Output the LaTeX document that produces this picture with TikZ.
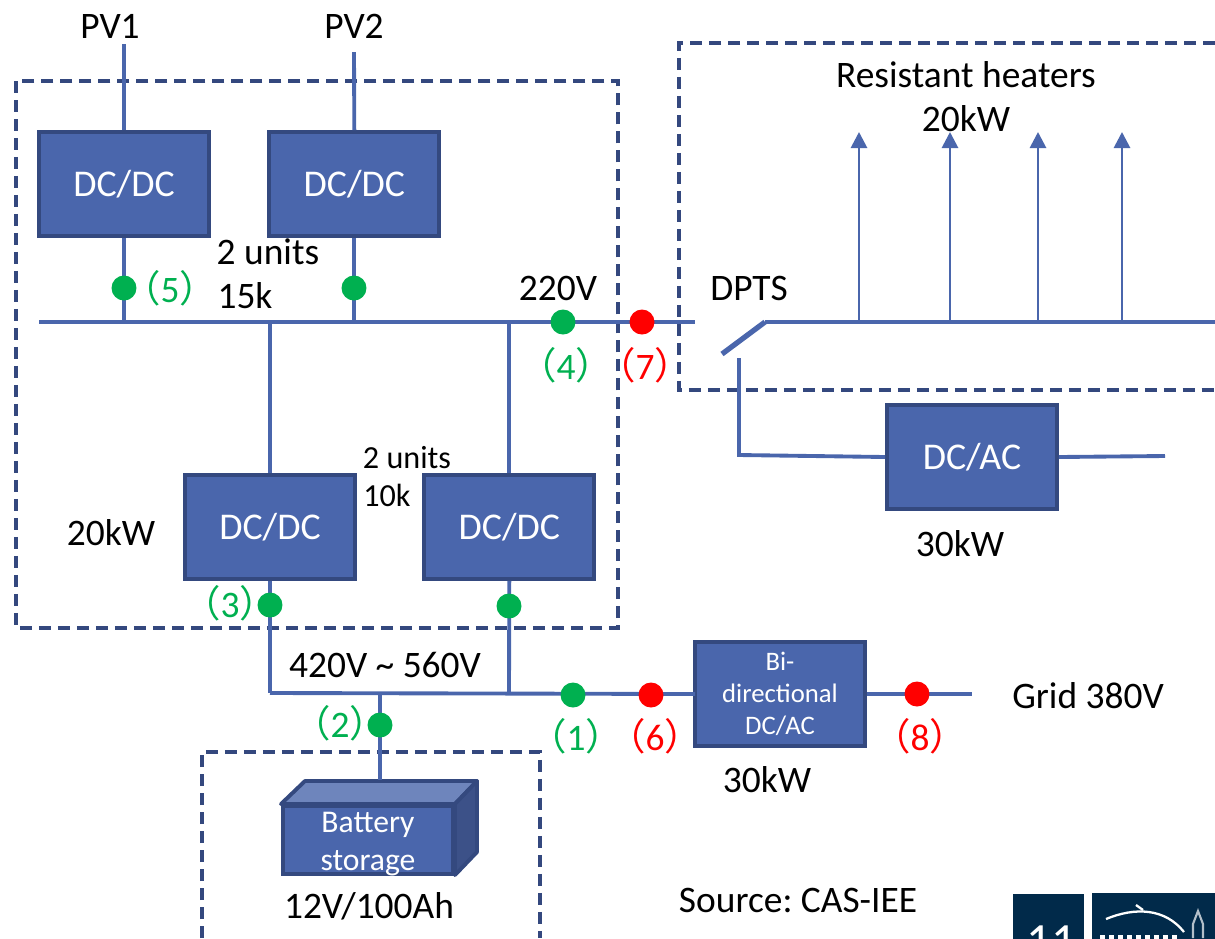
\documentclass[tikz,border=0pt]{standalone}
\usepackage{fontspec}
\setmainfont{Carlito}
\newfontfamily\cjk{Noto Sans CJK SC}
\usetikzlibrary{arrows.meta,positioning}
\definecolor{boxblue}{HTML}{4A66AC}
\definecolor{boxedge}{HTML}{34497F}
\definecolor{boxtop}{HTML}{6E85BC}
\definecolor{boxside}{HTML}{3C5188}
\definecolor{dashblue}{HTML}{34487E}
\definecolor{okgreen}{HTML}{00B050}
\definecolor{logonavy}{HTML}{012A4A}
\newcommand{\tagnum}[1]{{\cjk（}#1{\cjk）}}
\frenchspacing
\begin{document}
\begin{tikzpicture}[x=0.02cm,y=-0.02cm,
    conv/.style={rectangle,draw=boxedge,line width=2.2pt,fill=boxblue,text=white,minimum width=3.4cm,minimum height=2.08cm,inner sep=0pt,font=\fontsize{21.5}{26}\selectfont},
    bus/.style={draw=boxblue,line width=2.8pt},
    wire/.style={draw=boxblue,line width=2.2pt},
    frame/.style={draw=dashblue,line width=2.1pt,dash pattern=on 0.24cm off 0.14cm},
    heat/.style={draw=boxblue,line width=1.6pt,-{Triangle[width=0.32cm,length=0.32cm]}},
    gdot/.style={circle,fill=okgreen,minimum size=0.5cm,inner sep=0pt},
    rdot/.style={circle,fill=red,minimum size=0.5cm,inner sep=0pt},
    lbl/.style={inner sep=0pt,font=\fontsize{21.3}{26}\selectfont},
    gtag/.style={lbl,text=okgreen},
    rtag/.style={lbl,text=red}]
    \useasboundingbox (0,0) rectangle (1215,938);
    % dashed groups
    \draw[frame] (16,81) rectangle (618,628);
    \draw[frame] (1215,43) -- (679,43) -- (679,390) -- (1215,390);
    \draw[frame] (202,938) -- (202,752) -- (540,752) -- (540,938);
    % converters
    \node[conv] (dcpv1) at (124,184) {DC/DC};
    \node[conv,right=1.13cm of dcpv1] (dcpv2) {DC/DC};
    \node[conv] (dcbat1) at (270,527) {DC/DC};
    \node[conv,right=1.31cm of dcbat1] (dcbat2) {DC/DC};
    \node[conv] (dcac) at (972,457) {DC/AC};
    \node[conv,font=\fontsize{15.2}{18.2}\selectfont,align=center] (bidir) at (780,694) {Bi-\\directional\\DC/AC};
    % battery
    \draw[draw=boxedge,line width=2.2pt,line join=round,fill=boxtop] (281,804) -- (305,781) -- (477,781) -- (455,804) -- cycle;
    \draw[draw=boxedge,line width=2.2pt,line join=round,fill=boxside] (455,804) -- (477,781) -- (477,852) -- (455,875) -- cycle;
    \node[conv,minimum width=3.4cm,minimum height=1.36cm] (batt) at (368,840) {};
    \node[lbl,text=white,align=center,font=\fontsize{18}{21.6}\selectfont] (battname) at (368,844) {Battery\\storage};
    % free ends
    \coordinate (pv1end) at (124,44);
    \coordinate (pv2end) at (354,52);
    \coordinate (busleft) at (39,322);
    \coordinate (busright) at (695,322);
    \coordinate (lowleft) at (270,693);
    \coordinate (lowmid) at (509,693);
    \coordinate (lowbat) at (380,693);
    \coordinate (lowright) at (695,694);
    \coordinate (gridend) at (972,694);
    \coordinate (swopen) at (722,354);
    \coordinate (swhinge) at (765,322);
    \coordinate (loadend) at (1215,322);
    \coordinate (swfeed) at (739,358);
    \coordinate (swcorner) at (739,455);
    \coordinate (acend) at (1165,456);
    \coordinate (heat1) at (859,132);
    \coordinate (heat2) at (950,132);
    \coordinate (heat3) at (1038,132);
    \coordinate (heat4) at (1122,132);
    % connections
    \draw[wire] (pv1end) -- (dcpv1.north);
    \draw[wire] (pv2end) -- (dcpv2.north);
    \draw[bus] (busleft) -- (busright);
    \draw[wire] (dcpv1.south) -- (dcpv1 |- busleft);
    \draw[wire] (dcpv2.south) -- (dcpv2 |- busleft);
    \draw[wire] (dcbat1.north) -- (dcbat1 |- busleft);
    \draw[wire] (dcbat2.north) -- (dcbat2 |- busleft);
    \draw[wire] (dcbat1.south) -- (lowleft);
    \draw[wire] (dcbat2.south) -- (lowmid);
    \draw[wire] (lowleft) -- (lowright) -- (bidir.west);
    \draw[wire] (bidir.east) -- (gridend);
    \draw[wire] (lowbat) -- (lowbat |- 0,780);
    \draw[bus,line width=3pt] (swopen) -- (swhinge);
    \draw[bus] (swhinge) -- (loadend);
    \draw[wire] (swfeed) -- (swcorner) -- (dcac.west);
    \draw[wire] (dcac.east) -- (acend);
    \draw[heat] (heat1 |- busleft) -- (heat1);
    \draw[heat] (heat2 |- busleft) -- (heat2);
    \draw[heat] (heat3 |- busleft) -- (heat3);
    \draw[heat] (heat4 |- busleft) -- (heat4);
    % measuring points
    \node[gdot] (m5) at (124,288) {};
    \node[gdot] (m5b) at (354,288) {};
    \node[gdot] (m4) at (563,322) {};
    \node[rdot] (m7) at (642,322) {};
    \node[gdot] (m3) at (270,605) {};
    \node[gdot] (m3b) at (509,606) {};
    \node[gdot] (m2) at (380,725) {};
    \node[gdot] (m1) at (573,695) {};
    \node[rdot] (m6) at (651,695) {};
    \node[rdot] (m8) at (917,694) {};
    % labels
    \node[lbl] (pv1) at (110,26) {PV1};
    \node[lbl] (pv2) at (354,26) {PV2};
    \node[lbl] (units1) at (268,252) {2 units};
    \node[lbl] (rate1) at (245,296) {15k};
    \node[lbl] (volt) at (558,288) {220V};
    \node[lbl] (dpts) at (749,288) {DPTS};
    \node[lbl] (heaters) at (966,75) {Resistant heaters};
    \node[lbl] (heatkw) at (966,119) {20kW};
    \node[lbl,font=\fontsize{18.3}{22}\selectfont] (units2) at (407,458) {2 units};
    \node[lbl,font=\fontsize{18.3}{22}\selectfont] (rate2) at (387,495) {10k};
    \node[lbl] (kwbat) at (111,533) {20kW};
    \node[lbl] (dclink) at (385,665) {420V \textasciitilde{} 560V};
    \node[lbl] (grid) at (1088,696) {Grid 380V};
    \node[lbl] (kwbidir) at (767,780) {30kW};
    \node[lbl] (kwac) at (960,544) {30kW};
    \node[lbl] (source) at (798,900) {Source: CAS-IEE};
    \node[lbl] (battsize) at (369,906) {12V/100Ah};
    \node[gtag] (t5) at (170,288) {\tagnum{5}};
    \node[gtag] (t4) at (566,365) {\tagnum{4}};
    \node[rtag] (t7) at (645,365) {\tagnum{7}};
    \node[gtag] (t3) at (230,603) {\tagnum{3}};
    \node[gtag] (t2) at (340,723) {\tagnum{2}};
    \node[gtag] (t1) at (576,736) {\tagnum{1}};
    \node[rtag] (t6) at (655,736) {\tagnum{6}};
    \node[rtag] (t8) at (920,736) {\tagnum{8}};
    % footer tiles
    \begin{scope}
        \clip (1000,880) rectangle (1215,938);
        \fill[logonavy] (1013,894) rectangle (1084,950);
        \fill[logonavy] (1092,893) rectangle (1215,950);
        \node[text=white,inner sep=0pt,font=\fontsize{28}{32}\selectfont] (pageno) at (1051,942) {11};
        \draw[white,line width=1.3pt] (1106,919) .. controls (1135,907) and (1165,908) .. (1184,932);
        \draw[white,line width=1.3pt] (1136,905) -- (1143,910);
        \draw[white,line width=2pt,dash pattern=on 0.1cm off 0.08cm] (1100,937) -- (1178,937);
        \draw[white!70!logonavy,line width=1.2pt] (1193,938) -- (1193,924) -- (1198,911) -- (1203,924) -- (1203,938);
    \end{scope}
\end{tikzpicture}
\end{document}
